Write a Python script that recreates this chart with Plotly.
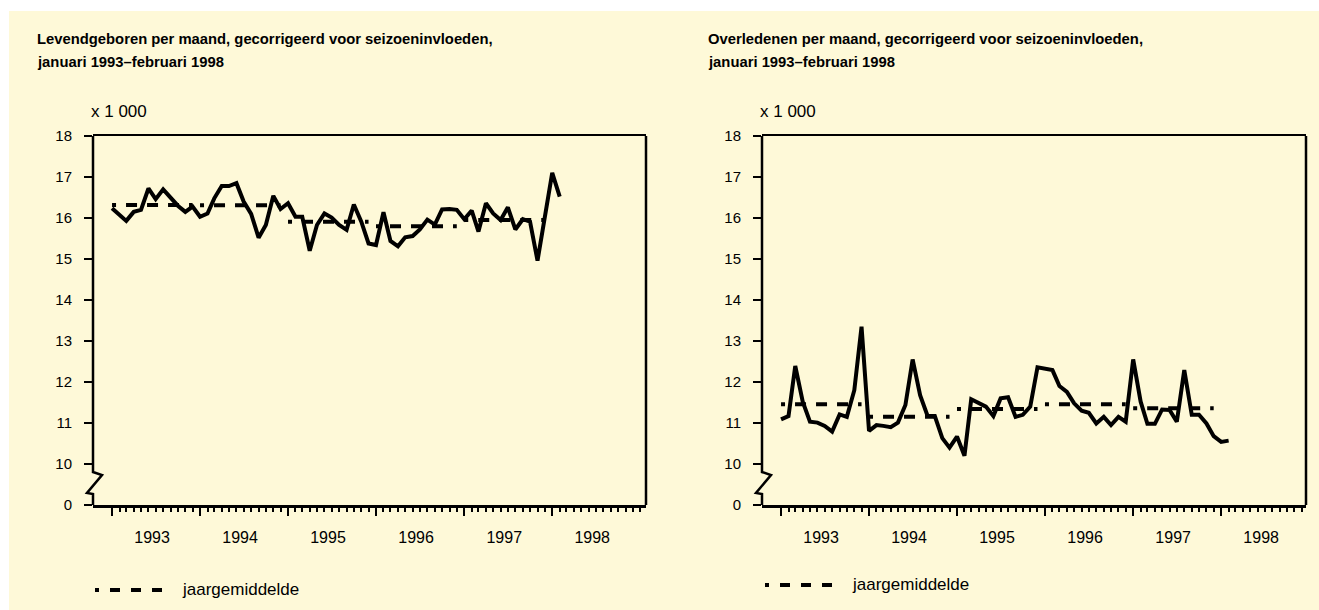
import plotly.graph_objects as go
import pandas as pd

# ---------------- data ----------------
months = pd.date_range("1993-01-01", "1998-02-01", freq="MS")

geboren = [16.24, 16.08, 15.93, 16.15, 16.20, 16.72, 16.46, 16.70, 16.50, 16.30, 16.15, 16.28,
           16.03, 16.11, 16.48, 16.78, 16.78, 16.85, 16.40, 16.10, 15.52, 15.83, 16.54, 16.22,
           16.36, 16.03, 16.03, 15.20, 15.83, 16.11, 16.01, 15.83, 15.71, 16.33, 15.91, 15.38,
           15.34, 16.14, 15.44, 15.31, 15.53, 15.56, 15.72, 15.96, 15.84, 16.21, 16.22, 16.20,
           15.97, 16.18, 15.67, 16.36, 16.11, 15.95, 16.26, 15.72, 15.97, 15.91, 14.96, 16.00,
           17.10, 16.52]

overleden = [11.09, 11.17, 12.39, 11.52, 11.03, 11.01, 10.93, 10.79, 11.21, 11.15, 11.80, 13.35,
             10.81, 10.95, 10.93, 10.90, 11.01, 11.44, 12.55, 11.68, 11.17, 11.17, 10.63, 10.40,
             10.67, 10.20, 11.58, 11.50, 11.40, 11.17, 11.60, 11.63, 11.15, 11.20, 11.40, 12.36,
             12.33, 12.29, 11.90, 11.76, 11.48, 11.30, 11.25, 10.99, 11.15, 10.95, 11.15, 11.03,
             12.55, 11.52, 10.98, 10.98, 11.33, 11.32, 11.03, 12.29, 11.20, 11.20, 10.99, 10.68,
             10.54, 10.57]

jaren = [1993, 1994, 1995, 1996, 1997]
gem_geboren = [16.32, 16.31, 15.91, 15.80, 15.95]
gem_overleden = [11.46, 11.15, 11.34, 11.46, 11.36]

ytick_vals = [9, 10, 11, 12, 13, 14, 15, 16, 17, 18]
ytick_text = ["0", "10", "11", "12", "13", "14", "15", "16", "17", "18"]

titels = ["Levendgeboren per maand, gecorrigeerd voor seizoeninvloeden,",
          "Overledenen per maand, gecorrigeerd voor seizoeninvloeden,"]
subtitel = "januari 1993\u2013februari 1998"
eenheid = "x 1 000"
legend_label = "jaargemiddelde"

# ---------------- style ----------------
W, H = 1319, 610
BG = "#FEF9D8"
FONT = "Liberation Sans, Arial, sans-serif"
DASH = "4px,10px,11px,10px,11px,10px,11px,10px,11px,10px,11px,40px"


def px(x):
    return x / W


def py(y):
    return 1 - y / H


# panel geometry in pixels
panels = [dict(x0=93, x1=646, end="1999-01-25", tx=35, lx=95, ly=590),
          dict(x0=762, x1=1306, end="1998-12-19", tx=706, lx=765, ly=585)]
TOP, BOT = 136, 505

fig = go.Figure()
series = [geboren, overleden]
gems = [gem_geboren, gem_overleden]

for i, p in enumerate(panels):
    xa = "x" if i == 0 else "x2"
    ya = "y" if i == 0 else "y2"
    for j, jaar in enumerate(jaren):
        fig.add_trace(go.Scatter(
            x=[pd.Timestamp(f"{jaar}-01-01"), pd.Timestamp(f"{jaar}-12-01")],
            y=[gems[i][j], gems[i][j]],
            mode="lines", line=dict(color="black", width=4, dash=DASH),
            xaxis=xa, yaxis=ya, showlegend=False, hoverinfo="skip"))
    fig.add_trace(go.Scatter(
        x=months, y=series[i], mode="lines",
        line=dict(color="black", width=4, shape="linear"),
        xaxis=xa, yaxis=ya, showlegend=False))

xcommon = dict(
    type="date",
    tick0="1993-01-01", dtick="M12", tickformat="%Y",
    ticklabelmode="period",
    ticks="outside", ticklen=8, tickwidth=2, tickcolor="black",
    minor=dict(tickmode="array",
               tickvals=list(pd.date_range("1993-01-01", "1999-01-01", freq="MS")),
               ticks="outside", ticklen=4, tickwidth=2, tickcolor="black"),
    showline=True, linecolor="black", linewidth=2.5, mirror=True,
    showgrid=False, zeroline=False, automargin=False,
    tickfont=dict(family=FONT, size=16, color="black"),
    ticklabelstandoff=8, ticklabelshift=-4,
    fixedrange=True,
)
ycommon = dict(
    range=[9, 18], tickmode="array", tickvals=ytick_vals, ticktext=ytick_text,
    ticks="outside", ticklen=8, tickwidth=2, tickcolor="black",
    showline=False, showgrid=False, zeroline=False, automargin=False,
    tickfont=dict(family=FONT, size=15, color="black"),
    ticklabelstandoff=9,
    fixedrange=True,
)

fig.update_layout(
    width=W, height=H, autosize=False,
    margin=dict(l=0, r=0, t=0, b=0, pad=0, autoexpand=False),
    paper_bgcolor="white", plot_bgcolor="rgba(0,0,0,0)",
    showlegend=False,
    xaxis=dict(xcommon, range=["1992-10-14", panels[0]["end"]],
               domain=[px(panels[0]["x0"]), px(panels[0]["x1"])], anchor="y"),
    yaxis=dict(ycommon, domain=[py(BOT), py(TOP)], anchor="x"),
    xaxis2=dict(xcommon, range=["1992-10-14", panels[1]["end"]],
                domain=[px(panels[1]["x0"]), px(panels[1]["x1"])], anchor="y2"),
    yaxis2=dict(ycommon, domain=[py(BOT), py(TOP)], anchor="x2"),
)

shapes = [dict(type="rect", xref="paper", yref="paper",
               x0=px(9), x1=1, y0=0, y1=py(11),
               fillcolor=BG, line=dict(width=0), layer="below")]
annotations = []
for i, p in enumerate(panels):
    x0, x1 = p["x0"], p["x1"]
    # left spine with axis break
    path = (f"M {px(x0)},{py(TOP)} L {px(x0)},{py(472)} L {px(x0+9)},{py(475)} "
            f"L {px(x0-6)},{py(493)} L {px(x0)},{py(494)} L {px(x0)},{py(BOT)}")
    shapes.append(dict(type="path", xref="paper", yref="paper", path=path,
                       line=dict(color="black", width=2.5)))
    # right frame
    shapes.append(dict(type="line", xref="paper", yref="paper",
                       x0=px(x1), x1=px(x1), y0=py(BOT), y1=py(TOP),
                       line=dict(color="black", width=2.5)))
    # legend sample
    shapes.append(dict(type="line", xref="paper", yref="paper",
                       x0=px(p["lx"]), x1=px(p["lx"] + 67), y0=py(p["ly"]), y1=py(p["ly"]),
                       line=dict(color="black", width=4,
                                 dash="4px,11px,10px,11px,10px,11px,10px,40px")))
    annotations += [
        dict(xref="paper", yref="paper", x=px(p["tx"]), y=py(39), xanchor="left", yanchor="middle",
             text=f"<b>{titels[i]}</b>", showarrow=False,
             font=dict(family=FONT, size=14.8, color="black")),
        dict(xref="paper", yref="paper", x=px(p["tx"]), y=py(62), xanchor="left", yanchor="middle",
             text=f"<b>{subtitel}</b>", showarrow=False,
             font=dict(family=FONT, size=14.8, color="black")),
        dict(xref="paper", yref="paper", x=px(x0 - 4), y=py(112), xanchor="left", yanchor="middle",
             text=eenheid, showarrow=False,
             font=dict(family=FONT, size=17, color="black")),
        dict(xref="paper", yref="paper", x=px(p["lx"] + 85), y=py(p["ly"] - 1), xanchor="left",
             yanchor="middle", text=legend_label, showarrow=False,
             font=dict(family=FONT, size=17, color="black")),
    ]

fig.update_layout(shapes=shapes, annotations=annotations)
fig.write_html("out.html", config={"displayModeBar": False, "staticPlot": True},
               post_script="document.body.style.margin='0';document.body.style.overflow='hidden';")
